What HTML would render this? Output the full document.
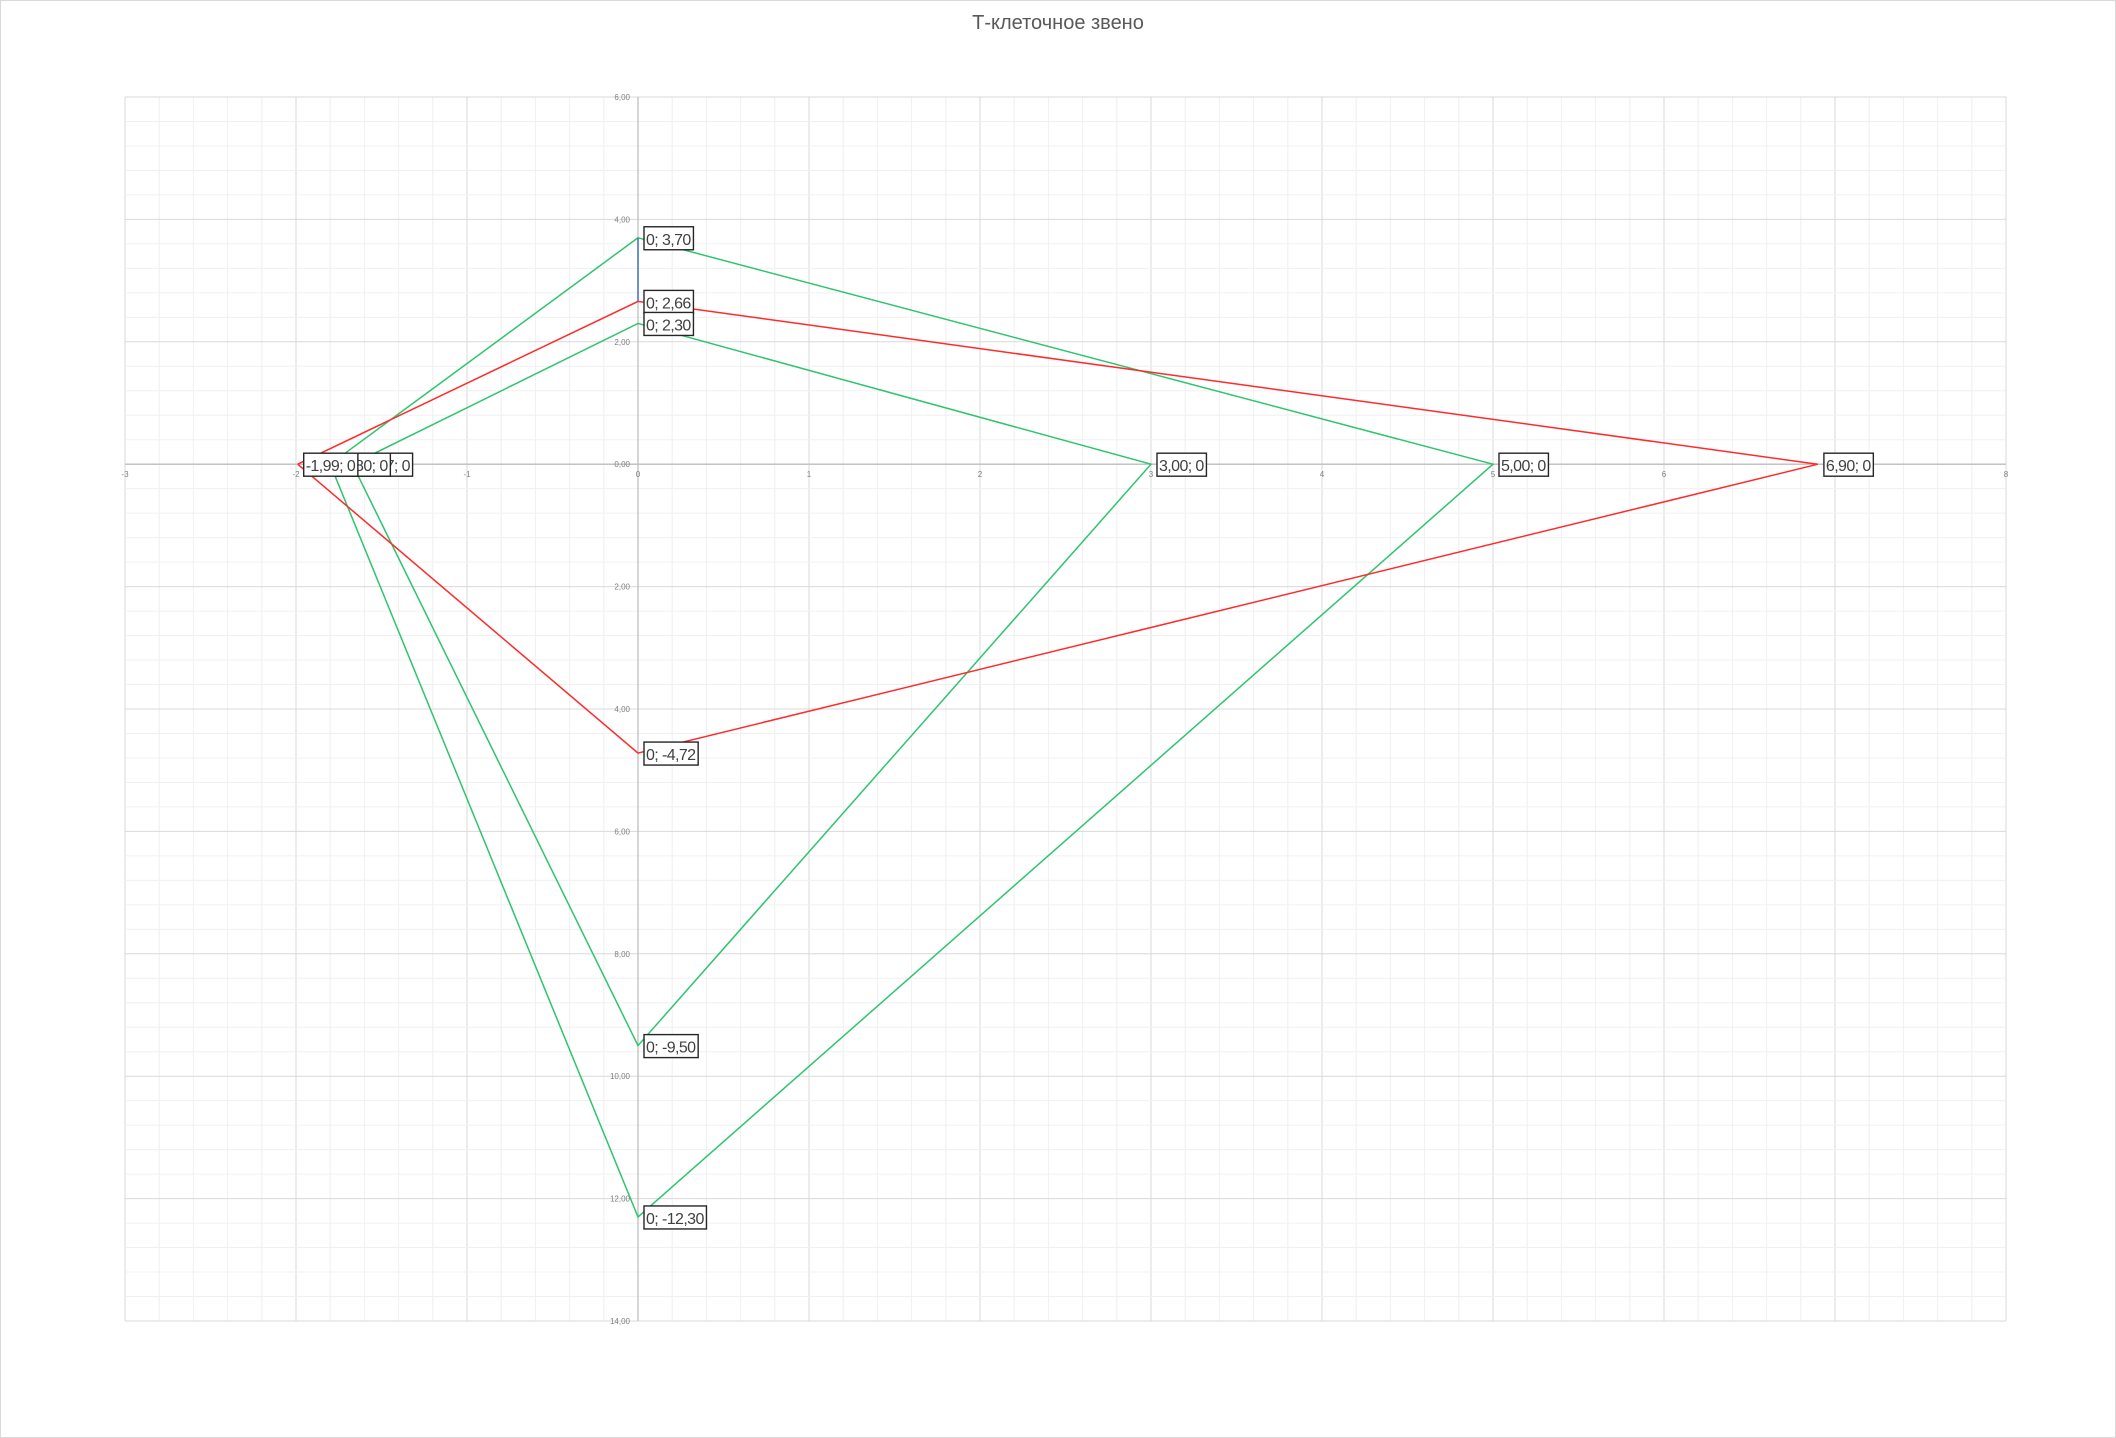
<!DOCTYPE html>
<html><head><meta charset="utf-8"><style>
html,body{margin:0;padding:0;background:#fff}
svg{display:block;font-family:"Liberation Sans","DejaVu Sans",sans-serif}
</style></head><body>
<svg id="chart" width="2116" height="1438" viewBox="0 0 2116 1438">
<rect x="0.5" y="0.5" width="2115" height="1437" fill="#fff" stroke="#d9d9d9"/>
<text x="1058" y="29" text-anchor="middle" font-size="20" fill="#595959">Т-клеточное звено</text>
<g id="grid"></g><g id="axes"></g><g id="series"></g><g id="labels"></g>
</svg>
<script>
const xTicks=[-3,-2,-1,0,1,2,3,4,5,6,7,8];
const yTicks=[6,4,2,0,-2,-4,-6,-8,-10,-12,-14];
const yTickLabels=["6,00","4,00","2,00","0,00","2,00","4,00","6,00","8,00","10,00","12,00","14,00"];
const redX=[-1.99,0,6.9,0,-1.99];
const redY=[0,2.66,0,-4.72,0];
const greenOuterX=[-1.80,0,5,0,-1.80];
const greenOuterY=[0,3.7,0,-12.3,0];
const greenInnerX=[-1.67,0,3,0,-1.67];
const greenInnerY=[0,2.3,0,-9.5,0];
const blueX=[0,0];
const blueY=[3.7,2.66];
const labelX=[-1.67,-1.80,-1.99,0,0,0,0,0,0,3,5,6.9];
const labelY=[0,0,0,3.7,2.66,2.3,-4.72,-9.5,-12.3,0,0,0];
const labelText=["-1,67; 0","-1,80; 0","-1,99; 0","0; 3,70","0; 2,66","0; 2,30","0; -4,72","0; -9,50","0; -12,30","3,00; 0","5,00; 0","6,90; 0"];

const X0=125,X1=2006,Y0=97,Y1=1321,xmin=-3,xmax=8,ymin=-14,ymax=6;
const sx=v=>X0+(v-xmin)/(xmax-xmin)*(X1-X0);
const sy=v=>Y0+(ymax-v)/(ymax-ymin)*(Y1-Y0);
const NS="http://www.w3.org/2000/svg";
function mk(tag,attrs,parent){const e=document.createElementNS(NS,tag);for(const k in attrs)e.setAttribute(k,attrs[k]);parent.appendChild(e);return e;}
const grid=document.getElementById('grid'),axes=document.getElementById('axes'),series=document.getElementById('series'),labels=document.getElementById('labels');
for(let i=0;i<=(xmax-xmin)*5;i++){const v=xmin+i*0.2;const major=i%5===0;
 const l=mk('line',{x1:sx(v),x2:sx(v),y1:Y0,y2:Y1,stroke:major?'#d9d9d9':'#f0f0f0','stroke-width':1},grid);
 
 }
for(let i=0;i<=(ymax-ymin)/0.4;i++){const v=ymin+i*0.4;const major=i%5===0;
 const l=mk('line',{x1:X0,x2:X1,y1:sy(v),y2:sy(v),stroke:major?'#d9d9d9':'#f0f0f0','stroke-width':1},grid);
 
 }
let ax=mk('line',{x1:X0,x2:X1,y1:sy(0),y2:sy(0),stroke:'#bfbfbf','stroke-width':1.3},axes);


let ay=mk('line',{x1:sx(0),x2:sx(0),y1:Y0,y2:Y1,stroke:'#bfbfbf','stroke-width':1.3},axes);


xTicks.forEach(v=>{const t=mk('text',{x:sx(v),y:sy(0)+13,'text-anchor':'middle','font-size':8,fill:'#808080'},axes);t.textContent=String(v);
 
 });
yTicks.forEach((v,i)=>{const t=mk('text',{x:sx(0)-8,y:sy(v)+3,'text-anchor':'end','font-size':8,fill:'#808080'},axes);t.textContent=yTickLabels[i];
 
 });
function drawLine(xs,ys,color,name){const p=xs.map((x,i)=>sx(x)+','+sy(ys[i])).join(' ');
 const e=mk('polyline',{points:p,fill:'none',stroke:color,'stroke-width':1.5},series);
 
 }
drawLine(greenOuterX,greenOuterY,'#2ec46e','series-green-outer');
drawLine(greenInnerX,greenInnerY,'#2ec46e','series-green-inner');
drawLine(redX,redY,'#ff2a2a','series-red');
drawLine(blueX,blueY,'#4472c4','series-blue');
labelX.forEach((x,i)=>{const g=mk('g',{},labels);
 
 
 const bx=sx(x)+6,by=sy(labelY[i])-11;
 const t=mk('text',{x:bx+2,y:by+18,'font-size':16,'letter-spacing':-0.6,fill:'#404040'},g);t.textContent=labelText[i];
 const w=t.getBBox().width+4;
 const r=mk('rect',{x:bx,y:by,width:w,height:23,fill:'#fff',stroke:'#262626','stroke-width':1.4},g);
 g.insertBefore(r,t);});
</script>
</body></html>
